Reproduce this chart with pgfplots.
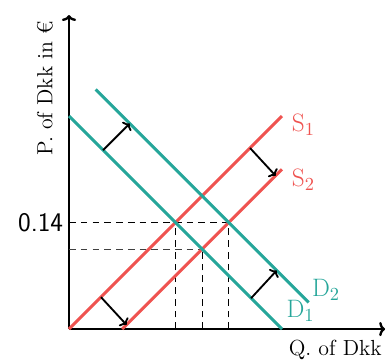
\documentclass[border=0pt]{standalone}
\usepackage{pgfplots}
\pgfplotsset{compat=1.18}
\usetikzlibrary{arrows.meta}
\definecolor{sred}{HTML}{EF5350}
\definecolor{dteal}{HTML}{26A69A}
\begin{document}
\begin{tikzpicture}
\begin{axis}[
 x=12.68pt, y=12.68pt,
 xmin=0, xmax=14.84, ymin=0, ymax=14.74,
 axis lines=left, enlargelimits=false,
 axis line style={line width=1.4pt, -{To[length=3.5pt,width=8.5pt]}},
 xtick=\empty, ytick={5}, yticklabels={\textsf{0.14}},
 yticklabel style={font=\fontsize{16}{18}\selectfont},
 major tick length=0pt,
 clip=false,
]
% dashed guides
\addplot[black, line width=0.6pt, dash pattern=on 4pt off 3pt] coordinates {(0,5) (7.5,5)};
\addplot[black!75, line width=0.6pt, dash pattern=on 4pt off 3pt] coordinates {(0,3.75) (6.25,3.75)};
\addplot[black, line width=0.6pt, dash pattern=on 4pt off 3pt] coordinates {(5,0) (5,5)};
\addplot[black, line width=0.6pt, dash pattern=on 4pt off 3pt] coordinates {(6.25,0) (6.25,3.75)};
\addplot[black, line width=0.6pt, dash pattern=on 4pt off 3pt] coordinates {(7.5,0) (7.5,5)};
% supply
\addplot[sred, line width=1.8pt] coordinates {(0,0) (10,10)};
\addplot[sred, line width=1.8pt] coordinates {(2.5,0) (10,7.5)};
% demand
\addplot[dteal, line width=1.8pt] coordinates {(0,10) (10,0)};
\addplot[dteal, line width=1.8pt] coordinates {(1.25,11.25) (11.25,1.25)};
% shift arrows
\addplot[black, line width=1.1pt, -{To[length=3pt,width=7.5pt]}] coordinates {(1.6,8.4) (2.85,9.65)};
\addplot[black, line width=1.1pt, -{To[length=3pt,width=7.5pt]}] coordinates {(8.5,8.5) (9.7,7.2)};
\addplot[black, line width=1.1pt, -{To[length=3pt,width=7.5pt]}] coordinates {(1.5,1.5) (2.7,0.2)};
\addplot[black, line width=1.1pt, -{To[length=3pt,width=7.5pt]}] coordinates {(8.55,1.45) (9.75,2.75)};
% labels
\node[anchor=west, text=sred, font=\fontsize{15}{17}\selectfont, inner sep=0pt] at (axis cs:10.45,9.6) {S$_1$};
\node[anchor=west, text=sred, font=\fontsize{15}{17}\selectfont, inner sep=0pt] at (axis cs:10.45,7.0) {S$_2$};
\node[anchor=west, text=dteal, font=\fontsize{15}{17}\selectfont, inner sep=0pt] at (axis cs:11.4,1.85) {D$_2$};
\node[anchor=west, text=dteal, font=\fontsize{15}{17}\selectfont, inner sep=0pt] at (axis cs:10.2,0.85) {D$_1$};
\node[font=\fontsize{13}{15}\selectfont, inner sep=0pt] at (axis cs:12.5,-1.0) {Q. of Dkk};
\node[rotate=90, font=\fontsize{13}{15}\selectfont, inner sep=0pt] at (axis cs:-1.13,11.3) {P. of Dkk in €};
\coordinate (bl) at (axis cs:-3.24,-1.455);
\coordinate (tr) at (axis cs:14.93,15.45);
\end{axis}
\pgfresetboundingbox
\path[use as bounding box] (bl) rectangle (tr);
\end{tikzpicture}
\end{document}
